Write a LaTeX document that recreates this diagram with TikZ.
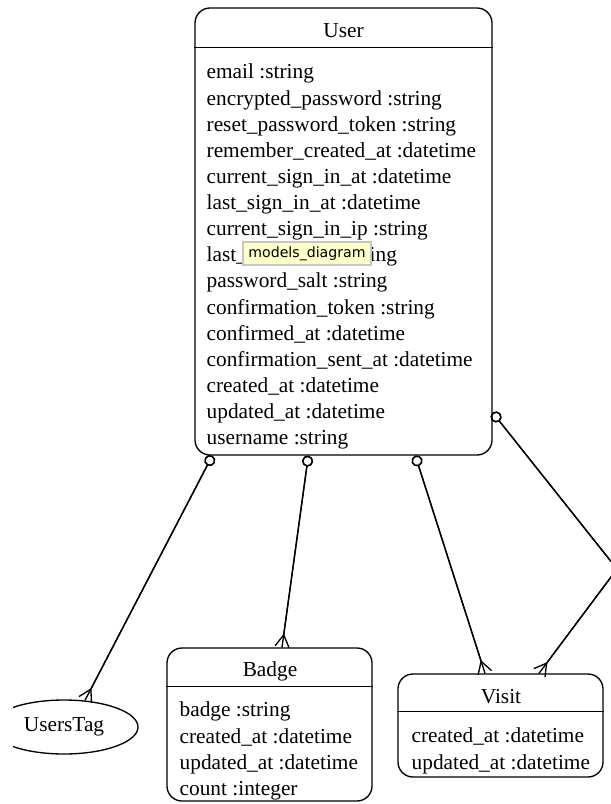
\documentclass[tikz,border=0pt]{standalone}
\usepackage{fontspec}
\setmainfont{Liberation Serif}
\newfontfamily\tipfont{DejaVu Sans}
\usetikzlibrary{arrows.meta, calc, shapes.geometric, shadows}

\definecolor{tipyellow}{RGB}{255,255,202}

\begin{document}
\begin{tikzpicture}[%
        x = 0.75pt, y = -0.75pt,
        line width = 1pt,
        font = \fontsize{16}{19.6}\selectfont,
        model/.style = {draw, rounded corners = 11.25pt, inner sep = 0pt},
        fields/.style = {align = left, anchor = north west, inner sep = 0pt},
        relation/.style = {%
            {Circle[open, length = 8.25pt]}-{Straight Barb[reversed, length = 9pt, width = 10.5pt]},
            postaction = {draw, {Circle[open, length = 8.25pt]}-},
        },
    ]

        % Picture frame, cut as in the screenshot.
        \useasboundingbox (0, 0) rectangle (611, 804);
        \clip (13, 0) rectangle (611, 804);

        % The model boxes.
        \node[model, minimum width = 222.75pt, minimum height = 335.25pt] (user) at (343.5, 231.5) {};
        \node[model, minimum width = 153.75pt, minimum height = 114.75pt] (badge) at (269.5, 724.5) {};
        \node[model, minimum width = 153.75pt, minimum height = 77.25pt] (visit) at (500.5, 725.5) {};
        \node[draw, ellipse, inner sep = 0pt, minimum width = 111pt, minimum height = 40.5pt] (userstag) at (64, 727) {UsersTag};

        % Titles and the lines under them.
        \node[anchor = base] (user-title) at (343.5, 37) {User};
        \node[anchor = base] (badge-title) at (270, 676) {Badge};
        \node[anchor = base] (visit-title) at (501, 703) {Visit};
        \draw ($(user.north west) + (0, 40)$) to ($(user.north east) + (0, 40)$);
        \draw ($(badge.north west) + (0, 39)$) to ($(badge.north east) + (0, 39)$);
        \draw ($(visit.north west) + (0, 38)$) to ($(visit.north east) + (0, 38)$);

        % Attributes.
        \node[fields] (user-fields) at (206, 63.4) {%
            email :string\\
            encrypted\_password :string\\
            reset\_password\_token :string\\
            remember\_created\_at :datetime\\
            current\_sign\_in\_at :datetime\\
            last\_sign\_in\_at :datetime\\
            current\_sign\_in\_ip :string\\
            last\_sign\_in\_ip :string\\
            password\_salt :string\\
            confirmation\_token :string\\
            confirmed\_at :datetime\\
            confirmation\_sent\_at :datetime\\
            created\_at :datetime\\
            updated\_at :datetime\\
            username :string};
        \node[fields] (badge-fields) at (179, 701.4) {%
            badge :string\\
            created\_at :datetime\\
            updated\_at :datetime\\
            count :integer};
        \node[fields] (visit-fields) at (411, 727.4) {%
            created\_at :datetime\\
            updated\_at :datetime};

        % Tooltip over the user box.
        \node[
            draw = gray!45, fill = tipyellow, inner sep = 0pt,
            minimum width = 96pt, minimum height = 17.25pt,
            drop shadow = {opacity = 0.15, shadow xshift = 0.6pt, shadow yshift = -1pt},
            font = \tipfont\fontsize{10.6}{12}\selectfont,
        ] (tooltip) at (307, 253.5) {models\_diagram};

        % Relations.
        \coordinate (bend) at (617, 569);
        \draw[relation] ($(user.south west) + (18, 0)$) to ($(userstag.north) + (21, 1)$);
        \draw[relation] ($(user.south west) + (114, 0)$) to ($(badge.north) + (12.5, 0)$);
        \draw[relation] ($(user.south west) + (221, 0)$) to ($(visit.north) + (-15.5, 0)$);
        \draw[relation] ($(user.south east) + (0, -43)$) -- (bend) -- ($(visit.north) + (38.5, 0)$);
    \end{tikzpicture}
\end{document}
